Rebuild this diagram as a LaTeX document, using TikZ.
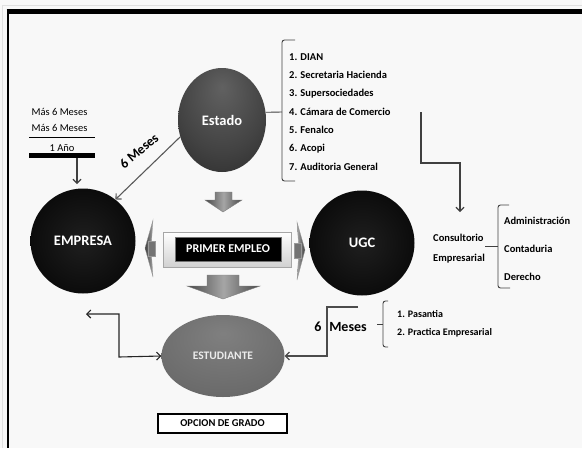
\documentclass[tikz,border=0pt]{standalone}
\usepackage{fontspec}
\setmainfont{Carlito}
\usetikzlibrary{shapes.geometric,arrows.meta}
\definecolor{bgcol}{HTML}{F8F8F8}
\definecolor{linecol}{HTML}{404040}
\pgfdeclareradialshading{darkball}{\pgfpoint{0bp}{0bp}}{color(0bp)=(black!88); color(40bp)=(black); color(47bp)=(black!92); color(50bp)=(black!65)}
\pgfdeclareradialshading{grayball}{\pgfpoint{0bp}{16bp}}{color(0bp)=(black!62); color(25bp)=(black!74); color(50bp)=(black!88); color(66bp)=(black!94)}
\pgfdeclareradialshading{estball}{\pgfpoint{0bp}{14bp}}{color(0bp)=(black!50); color(30bp)=(black!58); color(55bp)=(black!72); color(64bp)=(black!78)}
\tikzset{
  ball/.style={text=white, font=\bfseries\fontsize{14.5}{16}\selectfont, inner sep=0pt},
  darkcirc/.style={ball, circle, shading=darkball, minimum size=105pt},
  listtxt/.style={anchor=west, inner sep=0pt, font=\bfseries\fontsize{10.5}{12}\selectfont},
  smalltxt/.style={inner sep=0pt, font=\fontsize{10.5}{12}\selectfont},
  bracecol/.style={draw=black!75, line width=0.9pt, rounded corners=2.5pt},
  conn/.style={draw=linecol, line width=1.1pt, -{Straight Barb[length=4pt,width=8pt]}},
  blockarrow/.style={left color=black!72, right color=black!72, middle color=black!35, draw=black!50, line width=0.4pt},
}
\begin{document}
\begin{tikzpicture}[x=1pt,y=-1pt]
\fill[bgcol] (0,0) rectangle (582,448);
\useasboundingbox (0,0) rectangle (582,448);
% frame
\draw[black!12, line width=0.8pt] (2,448) -- (2,5.5) -- (582,5.5);
\draw[line width=4.5pt] (6.6,11.6) -- (582,11.6);
\draw[line width=2.4pt] (7.8,11) -- (7.8,448);

% spheres
\node[ball, ellipse, shading=grayball, minimum width=88pt, minimum height=104pt] (estado) at (222,120) {Estado};
\node[darkcirc] (empresa) at (83,241) {EMPRESA};
\node[darkcirc] (ugc) at (362,243) {UGC};
\node[ellipse, shading=estball, minimum width=123pt, minimum height=82pt, inner sep=0pt, text=black!8, font=\bfseries\fontsize{11.5}{13}\selectfont] (estud) at (223,356) {ESTUDIANTE};

% primer empleo
\node[draw=black!35, line width=0.8pt, top color=white, bottom color=black!18, minimum width=128pt, minimum height=35pt, inner sep=0pt] (pebox) at (227,249.5) {};
\node[draw=black!55, line width=1pt, fill=black, minimum width=106pt, minimum height=24pt, inner sep=0pt, text=white, font=\bfseries\fontsize{12}{14}\selectfont] (pe) at (228,249) {PRIMER EMPLEO};

% block arrows
\path[blockarrow] (215,192) -- (232,192) -- (232,200) -- (242,200) -- (223,212) -- (205,200) -- (215,200) -- cycle;
\path[blockarrow] (207,275) -- (239,275) -- (239,286) -- (260,286) -- (223,299) -- (187,286) -- (207,286) -- cycle;

% side arrows
\path[left color=black!75, right color=black!35, draw=black!40, line width=0.3pt] (153,220) -- (145,248) -- (153,277) -- (151,248) -- cycle;
\path[fill=black!55, draw=black!40, line width=0.3pt] (148,241) rectangle (155,256);
\path[left color=black!35, right color=black!75, draw=black!40, line width=0.3pt] (297,222) -- (305,250) -- (297,280) -- (299,250) -- cycle;
\path[fill=black!55, draw=black!40, line width=0.3pt] (294,243) rectangle (301,258);

% estado list
\node[listtxt] (l1) at (289,57) {1. DIAN};
\node[listtxt] (l2) at (289,75.3) {2. Secretaria Hacienda};
\node[listtxt] (l3) at (289,93.6) {3. Supersociedades};
\node[listtxt] (l4) at (289,111.9) {4. Cámara de Comercio};
\node[listtxt] (l5) at (289,130.2) {5. Fenalco};
\node[listtxt] (l6) at (289,148.5) {6. Acopi};
\node[listtxt] (l7) at (289,166.8) {7. Auditoria General};
\coordinate (brA) at (282,112);
\draw[bracecol] (295,40) -- (282,40) -- (282,181) -- (295,181);
\draw[draw=black!75, line width=0.9pt] (estado.10) -- (brA);

% elbow to consultorio
\node[anchor=west, inner sep=0pt, align=left, font=\bfseries\fontsize{10.5}{20}\selectfont] (cons) at (433,249) {Consultorio\\Empresarial};
\coordinate (c1) at (421,112);
\draw[conn] (c1) -- (421,163) -- (460,163) -- (460,212);
\draw[bracecol] (509,205) -- (498,205) -- (498,288) -- (510,288);
\draw[draw=black!75, line width=0.9pt] (cons.east |- 0,246) -- (498,246);
\node[listtxt] (a1) at (504,221) {Administración};
\node[listtxt] (a2) at (504,249) {Contaduria};
\node[listtxt] (a3) at (504,277) {Derecho};

% left top
\node[smalltxt] (m1) at (59.5,112) {Más 6 Meses};
\node[smalltxt] (m2) at (59.5,128) {Más 6 Meses};
\draw[black, line width=0.9pt] (29,137) -- (95,137);
\node[smalltxt] (m3) at (62,148) {1 Año};
\draw[black, line width=4.5pt] (29,155.5) -- (95,155.5);
\coordinate (barA) at (77,158);
\draw[conn] (barA) -- (77,184);

% estado -> empresa
\draw[conn, draw=black!65] (estado.202) -- (empresa.52);
\node[rotate=40, inner sep=0pt, font=\bfseries\fontsize{13.5}{15}\selectfont] (sixm) at (139,151) {6 Meses};

% estudiante left elbow
\coordinate (eL) at (86,314);
\draw[conn, {Straight Barb[length=4pt,width=8pt]}-{Straight Barb[length=4pt,width=8pt]}, draw=black!85] (eL) -- (119,314) -- (119,357) -- (estud.west);

% right elbow 6 meses
\coordinate (eR) at (358,307);
\draw[conn, draw=black!70] (eR) -- (327,307) -- (327,356) -- (estud.east);
\node[inner sep=0pt, font=\bfseries\fontsize{14}{16}\selectfont] (six) at (318,327) {6};
\node[inner sep=0pt, font=\bfseries\fontsize{14}{16}\selectfont] (mes) at (348,327) {Meses};
\draw[bracecol] (388,301) -- (383,301) -- (383,347) -- (388,347);
\draw[draw=black!75, line width=0.9pt] (377,324) -- (383,324);
\node[listtxt, font=\bfseries\fontsize{10}{12}\selectfont] (p1) at (397,314) {1. Pasantia};
\node[listtxt, font=\bfseries\fontsize{10}{12}\selectfont] (p2) at (397,333) {2. Practica Empresarial};

% opcion de grado
\node[draw=black, line width=2pt, fill=white, minimum width=129pt, minimum height=19pt, inner sep=0pt, font=\bfseries\fontsize{10.5}{12}\selectfont] (opc) at (222.5,423) {OPCION DE GRADO};
\end{tikzpicture}
\end{document}
